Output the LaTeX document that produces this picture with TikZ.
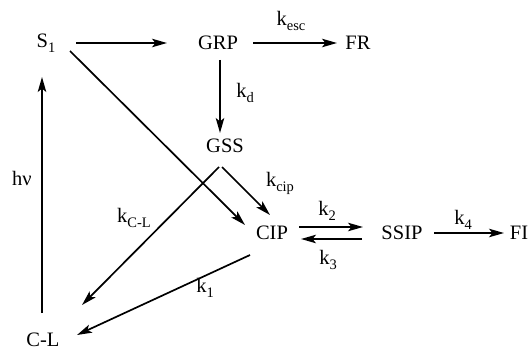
\documentclass[tikz,border=0pt]{standalone}
\usepackage{fontspec}
\setmainfont{Liberation Serif}
\usetikzlibrary{arrows.meta}
\newcommand{\lsub}[1]{\raisebox{-5pt}{\fontsize{14.5}{14.5}\selectfont #1}}
\begin{document}
\begin{tikzpicture}[x=1pt,y=-1pt,
  sp/.style={inner sep=0pt,font=\fontsize{20.5}{20.5}\selectfont},
  lab/.style={inner sep=0pt,font=\fontsize{20.5}{20.5}\selectfont},
  arr/.style={line width=1.7pt,-{Stealth[length=15pt,width=8.5pt,inset=3.5pt]}}]
\useasboundingbox (0,0) rectangle (532,350);
\node[sp] (S1) at (46,43) {S\lsub{1}};
\node[sp] (GRP) at (218,43) {GRP};
\node[sp] (FR) at (358,43) {FR};
\node[sp] (GSS) at (225,146) {GSS};
\node[sp] (CIP) at (272,233) {CIP};
\node[sp] (SSIP) at (402,233) {SSIP};
\node[sp] (FI) at (519,233) {FI};
\node[sp] (CL) at (43,340) {C-L};
% labels
\node[lab] (kesc) at (291,21) {k\lsub{esc}};
\node[lab] (kd) at (245,93) {k\lsub{d}};
\node[lab] (kcip) at (280,183) {k\lsub{cip}};
\node[lab] (k2) at (327,211) {k\lsub{2}};
\node[lab] (k3) at (328,260) {k\lsub{3}};
\node[lab] (k4) at (463,220) {k\lsub{4}};
\node[lab] (kCL) at (134,218) {k\lsub{C-L}};
\node[lab] (k1) at (205,288) {k\lsub{1}};
\node[lab] (hv) at (22,178) {hν};
% connectors
\draw[arr] ([shift={(30,0)}]S1.center) -- ([shift={(-51,0)}]GRP.center);
\draw[arr] ([shift={(35,0)}]GRP.center) -- ([shift={(-21,0)}]FR.center);
\draw[arr] ([shift={(2,17)}]GRP.center) -- ([shift={(-5,-13)}]GSS.center);
\draw[arr] ([shift={(24,8)}]S1.center) -- ([shift={(-27,-8)}]CIP.center);
\draw[arr] ([shift={(-3,21)}]GSS.center) -- ([shift={(-2,-18)}]CIP.center);
\draw[arr] ([shift={(-6,21)}]GSS.center) -- ([shift={(39,-35)}]CL.center);
\draw[arr] ([shift={(-22,22)}]CIP.center) -- ([shift={(34,-5)}]CL.center);
\draw[arr] ([shift={(-1,-27)}]CL.center) -- ([shift={(-4,34)}]S1.center);
\draw[arr] ([shift={(27,-6)}]CIP.center) -- ([shift={(-39,-6)}]SSIP.center);
\draw[arr] ([shift={(-40,6)}]SSIP.center) -- ([shift={(29,6)}]CIP.center);
\draw[arr] ([shift={(32,0)}]SSIP.center) -- ([shift={(-15,0)}]FI.center);
\end{tikzpicture}
\end{document}
